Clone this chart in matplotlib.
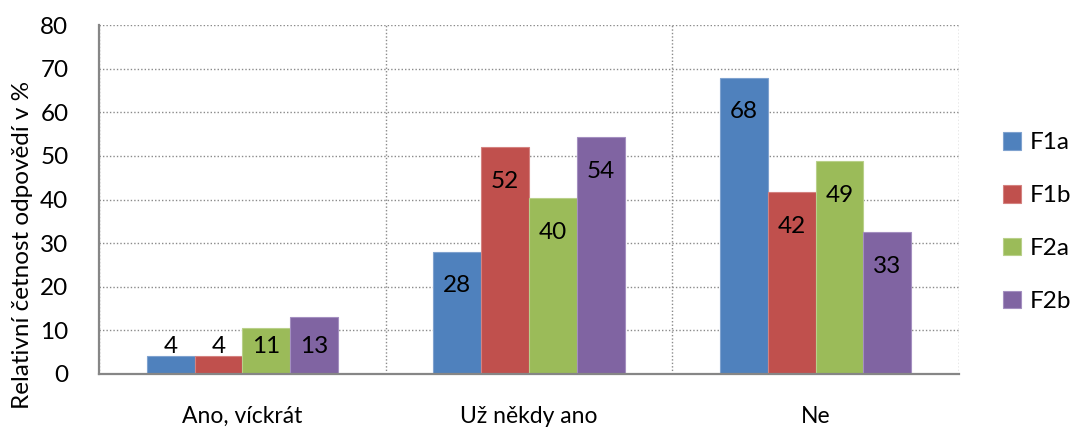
import matplotlib
matplotlib.use("Agg")
import matplotlib.pyplot as plt
import numpy as np

categories = ["Ano, víckrát", "Už někdy ano", "Ne"]
series_names = ["F1a", "F1b", "F2a", "F2b"]
values = {
    "F1a": [4.05, 28.0, 67.9],
    "F1b": [4.2, 52.0, 41.65],
    "F2a": [10.6, 40.3, 48.8],
    "F2b": [13.07, 54.3, 32.55],
}
labels = {
    "F1a": [4, 28, 68],
    "F1b": [4, 52, 42],
    "F2a": [11, 40, 49],
    "F2b": [13, 54, 33],
}
colors = ["#4F81BD", "#C0504D", "#9BBB59", "#8064A2"]
edges = ["#7FA2CF", "#D48280", "#B9D08A", "#A48FC0"]
yticks = [0, 10, 20, 30, 40, 50, 60, 70, 80]

plt.rcParams['font.family'] = ['Lato', 'DejaVu Sans']
FS = 17.5

fig = plt.figure(figsize=(10.70, 4.28), dpi=100)
ax = fig.add_axes([99/1070, 1-374/428, 860/1070, 349/428])

x = np.arange(len(categories)) + 0.5
w = 1/6
for i, name in enumerate(series_names):
    pos = x + (i - 1.5) * w
    ax.bar(pos, values[name], width=w, color=colors[i], edgecolor=edges[i],
           linewidth=0.8, label=name, zorder=3)
    for p, v, lab in zip(pos, values[name], labels[name]):
        ly = max(v - 7.8, 6.4)
        ax.text(p, ly, str(lab), ha='center', va='center', fontsize=FS, color='black', zorder=4)

ax.set_xlim(0, 3)
ax.set_ylim(0, 80)
ax.set_yticks(yticks)
ax.set_yticklabels([str(t) for t in yticks], fontsize=FS)
ax.set_xticks(x)
ax.set_xticklabels(categories, fontsize=16.5)
ax.set_xticks([0, 1, 2, 3], minor=True)
ax.tick_params(axis='both', which='both', length=0)
ax.tick_params(axis='y', pad=22)
ax.tick_params(axis='x', pad=23)

ax.grid(True, axis='y', which='major', linestyle=(0, (1, 1.5)), color='#8a8a8a', linewidth=1.0, zorder=0)
ax.grid(True, axis='x', which='minor', linestyle=(0, (1, 1.5)), color='#8a8a8a', linewidth=1.0, zorder=0)
ax.grid(False, axis='x', which='major')

for s in ['top', 'right']:
    ax.spines[s].set_visible(False)
for s in ['left', 'bottom']:
    ax.spines[s].set_color('#868686')
    ax.spines[s].set_linewidth(1.6)
    ax.spines[s].set_zorder(5)

fig.text(23/1070, 1-245/428, "Relativní četnost odpovědí v %", rotation=90,
         ha='center', va='center', fontsize=FS)

fig.legend(loc='center left', bbox_to_anchor=(1003/1070, 1-222/428), frameon=False,
           fontsize=FS, handlelength=0.74, handleheight=0.74, handletextpad=0.35,
           labelspacing=1.3, borderpad=0, borderaxespad=0)

fig.savefig("out.png", dpi=100)
